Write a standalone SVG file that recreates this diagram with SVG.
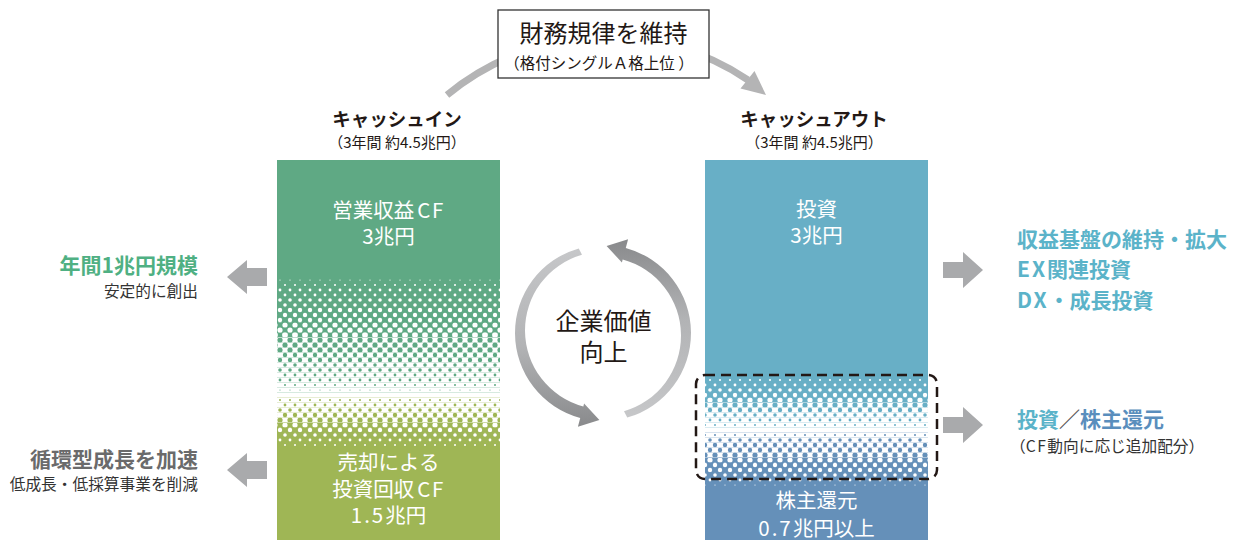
<svg xmlns="http://www.w3.org/2000/svg" width="1235" height="540" viewBox="0 0 1235 540">
<style>
text{font-family:"Noto Sans CJK JP","Noto Sans",sans-serif}
.h{font-size:18.5px;font-weight:700;fill:#231815;text-anchor:middle}
.hs{font-size:15px;fill:#231815;text-anchor:middle}
.bt{font-size:20.5px;fill:#fff;text-anchor:middle}
.lab{font-size:21px;font-weight:700}
.sub{font-size:15.7px;fill:#333}
.ga{fill:#a9aaac}
.ls{letter-spacing:2px}
</style>
<defs>
<linearGradient id="cg" x1="0" y1="0" x2="0" y2="1">
<stop offset="0" stop-color="#c6c7c9"/><stop offset="0.55" stop-color="#b2b3b5"/><stop offset="1" stop-color="#898a8c"/>
</linearGradient>
<pattern id="w06" width="10" height="10" patternUnits="userSpaceOnUse"><g fill="#fff"><circle r=".6"/><circle cx="10" r=".6"/><circle cy="10" r=".6"/><circle cx="10" cy="10" r=".6"/><circle cx="5" cy="5" r=".6"/></g></pattern>
<pattern id="w10" width="10" height="10" patternUnits="userSpaceOnUse"><g fill="#fff"><circle r="1"/><circle cx="10" r="1"/><circle cy="10" r="1"/><circle cx="10" cy="10" r="1"/><circle cx="5" cy="5" r="1"/></g></pattern>
<pattern id="w14" width="10" height="10" patternUnits="userSpaceOnUse"><g fill="#fff"><circle r="1.4"/><circle cx="10" r="1.4"/><circle cy="10" r="1.4"/><circle cx="10" cy="10" r="1.4"/><circle cx="5" cy="5" r="1.4"/></g></pattern>
<pattern id="w18" width="10" height="10" patternUnits="userSpaceOnUse"><g fill="#fff"><circle r="1.8"/><circle cx="10" r="1.8"/><circle cy="10" r="1.8"/><circle cx="10" cy="10" r="1.8"/><circle cx="5" cy="5" r="1.8"/></g></pattern>
<pattern id="w22" width="10" height="10" patternUnits="userSpaceOnUse"><g fill="#fff"><circle r="2.2"/><circle cx="10" r="2.2"/><circle cy="10" r="2.2"/><circle cx="10" cy="10" r="2.2"/><circle cx="5" cy="5" r="2.2"/></g></pattern>
<pattern id="w26" width="10" height="10" patternUnits="userSpaceOnUse"><g fill="#fff"><circle r="2.6"/><circle cx="10" r="2.6"/><circle cy="10" r="2.6"/><circle cx="10" cy="10" r="2.6"/><circle cx="5" cy="5" r="2.6"/></g></pattern>
<pattern id="w29" width="10" height="10" patternUnits="userSpaceOnUse"><g fill="#fff"><circle r="2.9"/><circle cx="10" r="2.9"/><circle cy="10" r="2.9"/><circle cx="10" cy="10" r="2.9"/><circle cx="5" cy="5" r="2.9"/></g></pattern>
<pattern id="h06" width="10" height="10" patternUnits="userSpaceOnUse"><path fill="#fff" fill-rule="evenodd" d="M0 0H10V10H0Z M-0.6 0a.6 .6 0 1 0 1.2 0a.6 .6 0 1 0 -1.2 0z M9.4 0a.6 .6 0 1 0 1.2 0a.6 .6 0 1 0 -1.2 0z M-0.6 10a.6 .6 0 1 0 1.2 0a.6 .6 0 1 0 -1.2 0z M9.4 10a.6 .6 0 1 0 1.2 0a.6 .6 0 1 0 -1.2 0z M4.4 5a.6 .6 0 1 0 1.2 0a.6 .6 0 1 0 -1.2 0z"/></pattern>
<pattern id="h10" width="10" height="10" patternUnits="userSpaceOnUse"><path fill="#fff" fill-rule="evenodd" d="M0 0H10V10H0Z M-1 0a1 1 0 1 0 2 0a1 1 0 1 0 -2 0z M9 0a1 1 0 1 0 2 0a1 1 0 1 0 -2 0z M-1 10a1 1 0 1 0 2 0a1 1 0 1 0 -2 0z M9 10a1 1 0 1 0 2 0a1 1 0 1 0 -2 0z M4 5a1 1 0 1 0 2 0a1 1 0 1 0 -2 0z"/></pattern>
<pattern id="h14" width="10" height="10" patternUnits="userSpaceOnUse"><path fill="#fff" fill-rule="evenodd" d="M0 0H10V10H0Z M-1.4 0a1.4 1.4 0 1 0 2.8 0a1.4 1.4 0 1 0 -2.8 0z M8.6 0a1.4 1.4 0 1 0 2.8 0a1.4 1.4 0 1 0 -2.8 0z M-1.4 10a1.4 1.4 0 1 0 2.8 0a1.4 1.4 0 1 0 -2.8 0z M8.6 10a1.4 1.4 0 1 0 2.8 0a1.4 1.4 0 1 0 -2.8 0z M3.6 5a1.4 1.4 0 1 0 2.8 0a1.4 1.4 0 1 0 -2.8 0z"/></pattern>
<pattern id="h18" width="10" height="10" patternUnits="userSpaceOnUse"><path fill="#fff" fill-rule="evenodd" d="M0 0H10V10H0Z M-1.8 0a1.8 1.8 0 1 0 3.6 0a1.8 1.8 0 1 0 -3.6 0z M8.2 0a1.8 1.8 0 1 0 3.6 0a1.8 1.8 0 1 0 -3.6 0z M-1.8 10a1.8 1.8 0 1 0 3.6 0a1.8 1.8 0 1 0 -3.6 0z M8.2 10a1.8 1.8 0 1 0 3.6 0a1.8 1.8 0 1 0 -3.6 0z M3.2 5a1.8 1.8 0 1 0 3.6 0a1.8 1.8 0 1 0 -3.6 0z"/></pattern>
<pattern id="h22" width="10" height="10" patternUnits="userSpaceOnUse"><path fill="#fff" fill-rule="evenodd" d="M0 0H10V10H0Z M-2.2 0a2.2 2.2 0 1 0 4.4 0a2.2 2.2 0 1 0 -4.4 0z M7.8 0a2.2 2.2 0 1 0 4.4 0a2.2 2.2 0 1 0 -4.4 0z M-2.2 10a2.2 2.2 0 1 0 4.4 0a2.2 2.2 0 1 0 -4.4 0z M7.8 10a2.2 2.2 0 1 0 4.4 0a2.2 2.2 0 1 0 -4.4 0z M2.8 5a2.2 2.2 0 1 0 4.4 0a2.2 2.2 0 1 0 -4.4 0z"/></pattern>
<pattern id="h26" width="10" height="10" patternUnits="userSpaceOnUse"><path fill="#fff" fill-rule="evenodd" d="M0 0H10V10H0Z M-2.6 0a2.6 2.6 0 1 0 5.2 0a2.6 2.6 0 1 0 -5.2 0z M7.4 0a2.6 2.6 0 1 0 5.2 0a2.6 2.6 0 1 0 -5.2 0z M-2.6 10a2.6 2.6 0 1 0 5.2 0a2.6 2.6 0 1 0 -5.2 0z M7.4 10a2.6 2.6 0 1 0 5.2 0a2.6 2.6 0 1 0 -5.2 0z M2.4 5a2.6 2.6 0 1 0 5.2 0a2.6 2.6 0 1 0 -5.2 0z"/></pattern>
</defs>
<rect width="1235" height="540" fill="#fff"/>

<g id="connectors">
<path d="M447 95 A252 252 0 0 1 748 80" fill="none" stroke="#b4b4b5" stroke-width="7"/>
<polygon points="766,95 754.5,71 740.5,88.5" fill="#b4b4b5"/>
<path id="cycleL" fill="url(#cg)" d="M578.75 248.41 A88 88 0 0 0 580.22 418 L577.9 426.7 L599.4 420 L584.1 403.5 L583.32 406.41 A78.69 78.69 0 0 1 582 254.76 Z"/>
<path id="cycleR" fill="url(#cg)" transform="rotate(180 603 333)" d="M578.75 248.41 A88 88 0 0 0 580.22 418 L577.9 426.7 L599.4 420 L584.1 403.5 L583.32 406.41 A78.69 78.69 0 0 1 582 254.76 Z"/>
<polygon class="ga" points="227,277 247,260 247,268 267,268 267,286 247,286 247,294"/>
<polygon class="ga" points="227,470 247,453 247,461 267,461 267,479 247,479 247,487"/>
<polygon class="ga" points="943,262 963,262 963,252 983,270 963,288 963,278 943,278"/>
<polygon class="ga" points="943,417 963,417 963,407 983,425 963,443 963,433 943,433"/>
</g>

<g id="policy">
<rect x="498" y="10" width="211" height="68" fill="#fff" stroke="#333" stroke-width="1.3"/>
<text x="603.5" y="42" style="font-size:24px;fill:#231815;text-anchor:middle">財務規律を維持</text>
<text x="599" y="69" style="font-size:15.5px;fill:#231815;text-anchor:middle">（格付シングルＡ格上位 ）</text>
</g>

<g id="cash-in">
<text class="h" x="397" y="126">キャッシュイン</text>
<text class="hs" x="397" y="148">（3年間 約4.5兆円）</text>
<rect x="277" y="160" width="223" height="232.5" fill="#5fa984"/>
<rect x="277" y="397.5" width="223" height="142.5" fill="#9fb655"/>
<g>
<rect x="277" y="277.5" width="223" height="5" fill="url(#w06)"/>
<rect x="277" y="282.5" width="223" height="5" fill="url(#w10)"/>
<rect x="277" y="287.5" width="223" height="5" fill="url(#w14)"/>
<rect x="277" y="292.5" width="223" height="5" fill="url(#w14)"/>
<rect x="277" y="297.5" width="223" height="5" fill="url(#w18)"/>
<rect x="277" y="302.5" width="223" height="5" fill="url(#w18)"/>
<rect x="277" y="307.5" width="223" height="5" fill="url(#w22)"/>
<rect x="277" y="312.5" width="223" height="5" fill="url(#w22)"/>
<rect x="277" y="317.5" width="223" height="5" fill="url(#w22)"/>
<rect x="277" y="322.5" width="223" height="5" fill="url(#w26)"/>
<rect x="277" y="327.5" width="223" height="5" fill="url(#w26)"/>
<rect x="277" y="332.5" width="223" height="5" fill="url(#w29)"/>
<rect x="277" y="337.5" width="223" height="5" fill="url(#h26)"/>
<rect x="277" y="342.5" width="223" height="5" fill="url(#h26)"/>
<rect x="277" y="347.5" width="223" height="5" fill="url(#h26)"/>
<rect x="277" y="352.5" width="223" height="5" fill="url(#h22)"/>
<rect x="277" y="357.5" width="223" height="5" fill="url(#h22)"/>
<rect x="277" y="362.5" width="223" height="5" fill="url(#h18)"/>
<rect x="277" y="367.5" width="223" height="5" fill="url(#h18)"/>
<rect x="277" y="372.5" width="223" height="5" fill="url(#h14)"/>
<rect x="277" y="377.5" width="223" height="5" fill="url(#h14)"/>
<rect x="277" y="382.5" width="223" height="5" fill="url(#h10)"/>
<rect x="277" y="387.5" width="223" height="5" fill="url(#h06)"/>
<rect x="277" y="397.5" width="223" height="5" fill="url(#h10)"/>
<rect x="277" y="402.5" width="223" height="5" fill="url(#h14)"/>
<rect x="277" y="407.5" width="223" height="5" fill="url(#h18)"/>
<rect x="277" y="412.5" width="223" height="5" fill="url(#h22)"/>
<rect x="277" y="417.5" width="223" height="5" fill="url(#h26)"/>
<rect x="277" y="422.5" width="223" height="5" fill="url(#w26)"/>
<rect x="277" y="427.5" width="223" height="5" fill="url(#w22)"/>
<rect x="277" y="432.5" width="223" height="5" fill="url(#w18)"/>
<rect x="277" y="437.5" width="223" height="5" fill="url(#w14)"/>
<rect x="277" y="442.5" width="223" height="5" fill="url(#w10)"/>
</g>
<text class="bt" x="388.5" y="218">営業収益<tspan dx="3" style="letter-spacing:1.5px">CF</tspan></text>
<text class="bt" x="388.5" y="244">3兆円</text>
<text class="bt" x="388.5" y="470">売却による</text>
<text class="bt" x="388.5" y="497">投資回収<tspan dx="3" style="letter-spacing:1.5px">CF</tspan></text>
<text class="bt" x="388.5" y="523"><tspan class="ls">1.5</tspan>兆円</text>
</g>

<g id="cash-out">
<text class="h" x="814" y="126">キャッシュアウト</text>
<text class="hs" x="814" y="148">（3年間 約4.5兆円）</text>
<rect x="705" y="160" width="223" height="267.5" fill="#68afc6"/>
<rect x="705" y="432.5" width="223" height="107.5" fill="#6590b9"/>
<g>
<rect x="705" y="377.5" width="223" height="5" fill="url(#w10)"/>
<rect x="705" y="382.5" width="223" height="5" fill="url(#w14)"/>
<rect x="705" y="387.5" width="223" height="5" fill="url(#w18)"/>
<rect x="705" y="392.5" width="223" height="5" fill="url(#w22)"/>
<rect x="705" y="397.5" width="223" height="5" fill="url(#w26)"/>
<rect x="705" y="402.5" width="223" height="5" fill="url(#h26)"/>
<rect x="705" y="407.5" width="223" height="5" fill="url(#h22)"/>
<rect x="705" y="412.5" width="223" height="5" fill="url(#h18)"/>
<rect x="705" y="417.5" width="223" height="5" fill="url(#h14)"/>
<rect x="705" y="422.5" width="223" height="5" fill="url(#h10)"/>
<rect x="705" y="432.5" width="223" height="5" fill="url(#h10)"/>
<rect x="705" y="437.5" width="223" height="5" fill="url(#h18)"/>
<rect x="705" y="442.5" width="223" height="5" fill="url(#h22)"/>
<rect x="705" y="447.5" width="223" height="5" fill="url(#h22)"/>
<rect x="705" y="452.5" width="223" height="5" fill="url(#h26)"/>
<rect x="705" y="457.5" width="223" height="5" fill="url(#w26)"/>
<rect x="705" y="462.5" width="223" height="5" fill="url(#w22)"/>
<rect x="705" y="467.5" width="223" height="5" fill="url(#w22)"/>
<rect x="705" y="472.5" width="223" height="5" fill="url(#w18)"/>
<rect x="705" y="477.5" width="223" height="5" fill="url(#w14)"/>
<rect x="705" y="482.5" width="223" height="5" fill="url(#w06)"/>
</g>
<text class="bt" x="816.5" y="217">投資</text>
<text class="bt" x="816.5" y="243">3兆円</text>
<text class="bt" x="816.5" y="508">株主還元</text>
<text class="bt" x="816.5" y="536"><tspan class="ls">0.7</tspan>兆円以上</text>
<rect x="696" y="375" width="241" height="104" rx="9" fill="none" stroke="#231815" stroke-width="2.5" stroke-dasharray="10 6"/>
</g>

<g id="value">
<text x="603.5" y="330" style="font-size:24px;fill:#231815;text-anchor:middle">企業価値</text>
<text x="603.5" y="361" style="font-size:24px;fill:#231815;text-anchor:middle">向上</text>
</g>

<g id="left-notes" style="text-anchor:end">
<text class="lab" x="198" y="273" fill="#4fb083">年間1兆円規模</text>
<text class="sub" x="198" y="297">安定的に創出</text>
<text class="lab" x="198" y="467" fill="#6a6a6b">循環型成長を加速</text>
<text class="sub" x="198" y="490">低成長・低採算事業を削減</text>
</g>

<g id="right-notes">
<text class="lab" x="1017" y="247" fill="#5bb3c9">収益基盤の維持・拡大</text>
<text class="lab" x="1017" y="277" fill="#5bb3c9"><tspan class="ls">EX</tspan>関連投資</text>
<text class="lab" x="1017" y="308" fill="#5bb3c9"><tspan class="ls">DX</tspan>・成長投資</text>
<text class="lab" x="1017" y="427"><tspan fill="#5bb3c9">投資</tspan><tspan fill="#555">／</tspan><tspan fill="#5a8ebd">株主還元</tspan></text>
<text class="sub" x="1010" y="452">（<tspan style="letter-spacing:1.5px">CF</tspan>動向に応じ追加配分）</text>
</g>
</svg>
